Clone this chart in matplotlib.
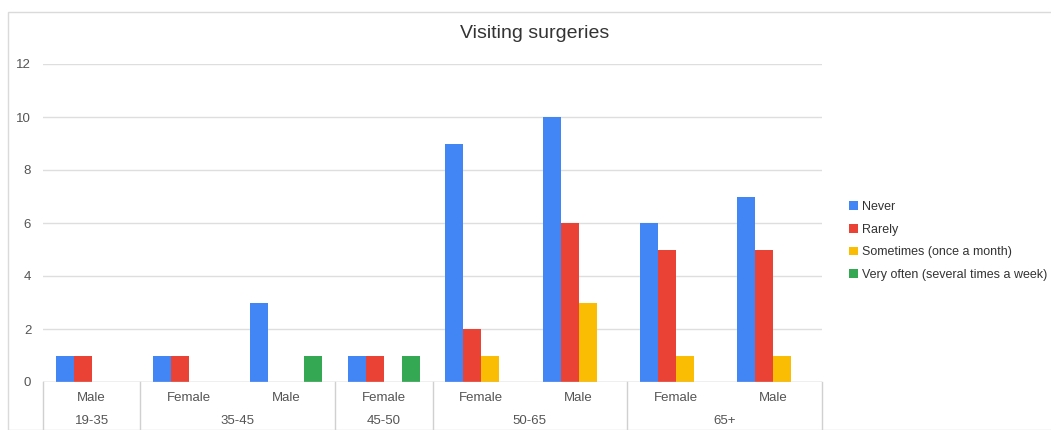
import numpy as np
import matplotlib.pyplot as plt
from matplotlib.patches import Rectangle

plt.rcParams['font.family'] = ['Liberation Sans', 'DejaVu Sans']

# data
sub_labels = ["Male", "Female", "Male", "Female", "Female", "Male", "Female", "Male"]
groups = ["19-35", "35-45", "45-50", "50-65", "65+"]
group_sizes = [1, 2, 1, 2, 2]
series = ["Never", "Rarely", "Sometimes (once a month)", "Very often (several times a week)"]
never = [1, 1, 3, 1, 9, 10, 6, 7]
rarely = [1, 1, 0, 1, 2, 6, 5, 5]
sometimes = [0, 0, 0, 0, 1, 3, 1, 1]
very_often = [0, 0, 1, 1, 0, 0, 0, 0]
colors = ["#4285F4", "#EA4335", "#FBBC04", "#34A853"]

W, H = 1051, 430
fig = plt.figure(figsize=(W / 100, H / 100), dpi=100)
ax = fig.add_axes([43 / W, 48 / H, (822 - 43) / W, (382 - 64) / H])

x = np.arange(len(sub_labels))
w = 0.185
handles = []
for i, (vals, c) in enumerate(zip([never, rarely, sometimes, very_often], colors)):
    b = ax.bar(x + (i - 1.5) * w, vals, width=w, color=c, zorder=3, label=series[i])
    handles.append(b)

ax.set_xlim(-0.5, len(sub_labels) - 0.5)
ax.set_ylim(0, 12)
ax.set_yticks(range(0, 13, 2))
ax.grid(axis="y", color="#dedede", linewidth=1)
ax.tick_params(axis="y", length=0, pad=8.5, labelsize=9.5, labelcolor="#555555")
ax.set_xticks([])
for s in ax.spines.values():
    s.set_visible(False)
ax.axhline(0, color="#cccccc", linewidth=1, zorder=4)

# category axis below
trans = ax.get_xaxis_transform()
bottom = -48 / 318
bounds = [-0.5]
for n in group_sizes:
    bounds.append(bounds[-1] + n)
for b in bounds:
    ax.plot([b, b], [0, bottom], color="#d0d0d0", linewidth=1, transform=trans, clip_on=False)
for xi, lab in zip(x, sub_labels):
    ax.text(xi, -16 / 318, lab, transform=trans, ha="center", va="center",
            fontsize=9.5, color="#555555")
for i, g in enumerate(groups):
    ax.text((bounds[i] + bounds[i + 1]) / 2, -39 / 318, g, transform=trans,
            ha="center", va="center", fontsize=9.5, color="#555555")

fig.text(535 / W, 1 - 33 / H, "Visiting surgeries", ha="center", va="center",
         fontsize=14, color="#333333")

fig.legend(handles=handles, labels=series, loc="center left",
           bbox_to_anchor=(838 / W, 1 - 241 / H), frameon=False, fontsize=9,
           handlelength=0.7, handleheight=0.7, handletextpad=0.3,
           labelspacing=0.85, labelcolor="#333333")

fig.patches.append(Rectangle((8 / W, 0), 1.2, 1 - 12 / H, transform=fig.transFigure,
                             fill=False, edgecolor="#dadada", linewidth=1))

fig.savefig("out.png", dpi=100)
